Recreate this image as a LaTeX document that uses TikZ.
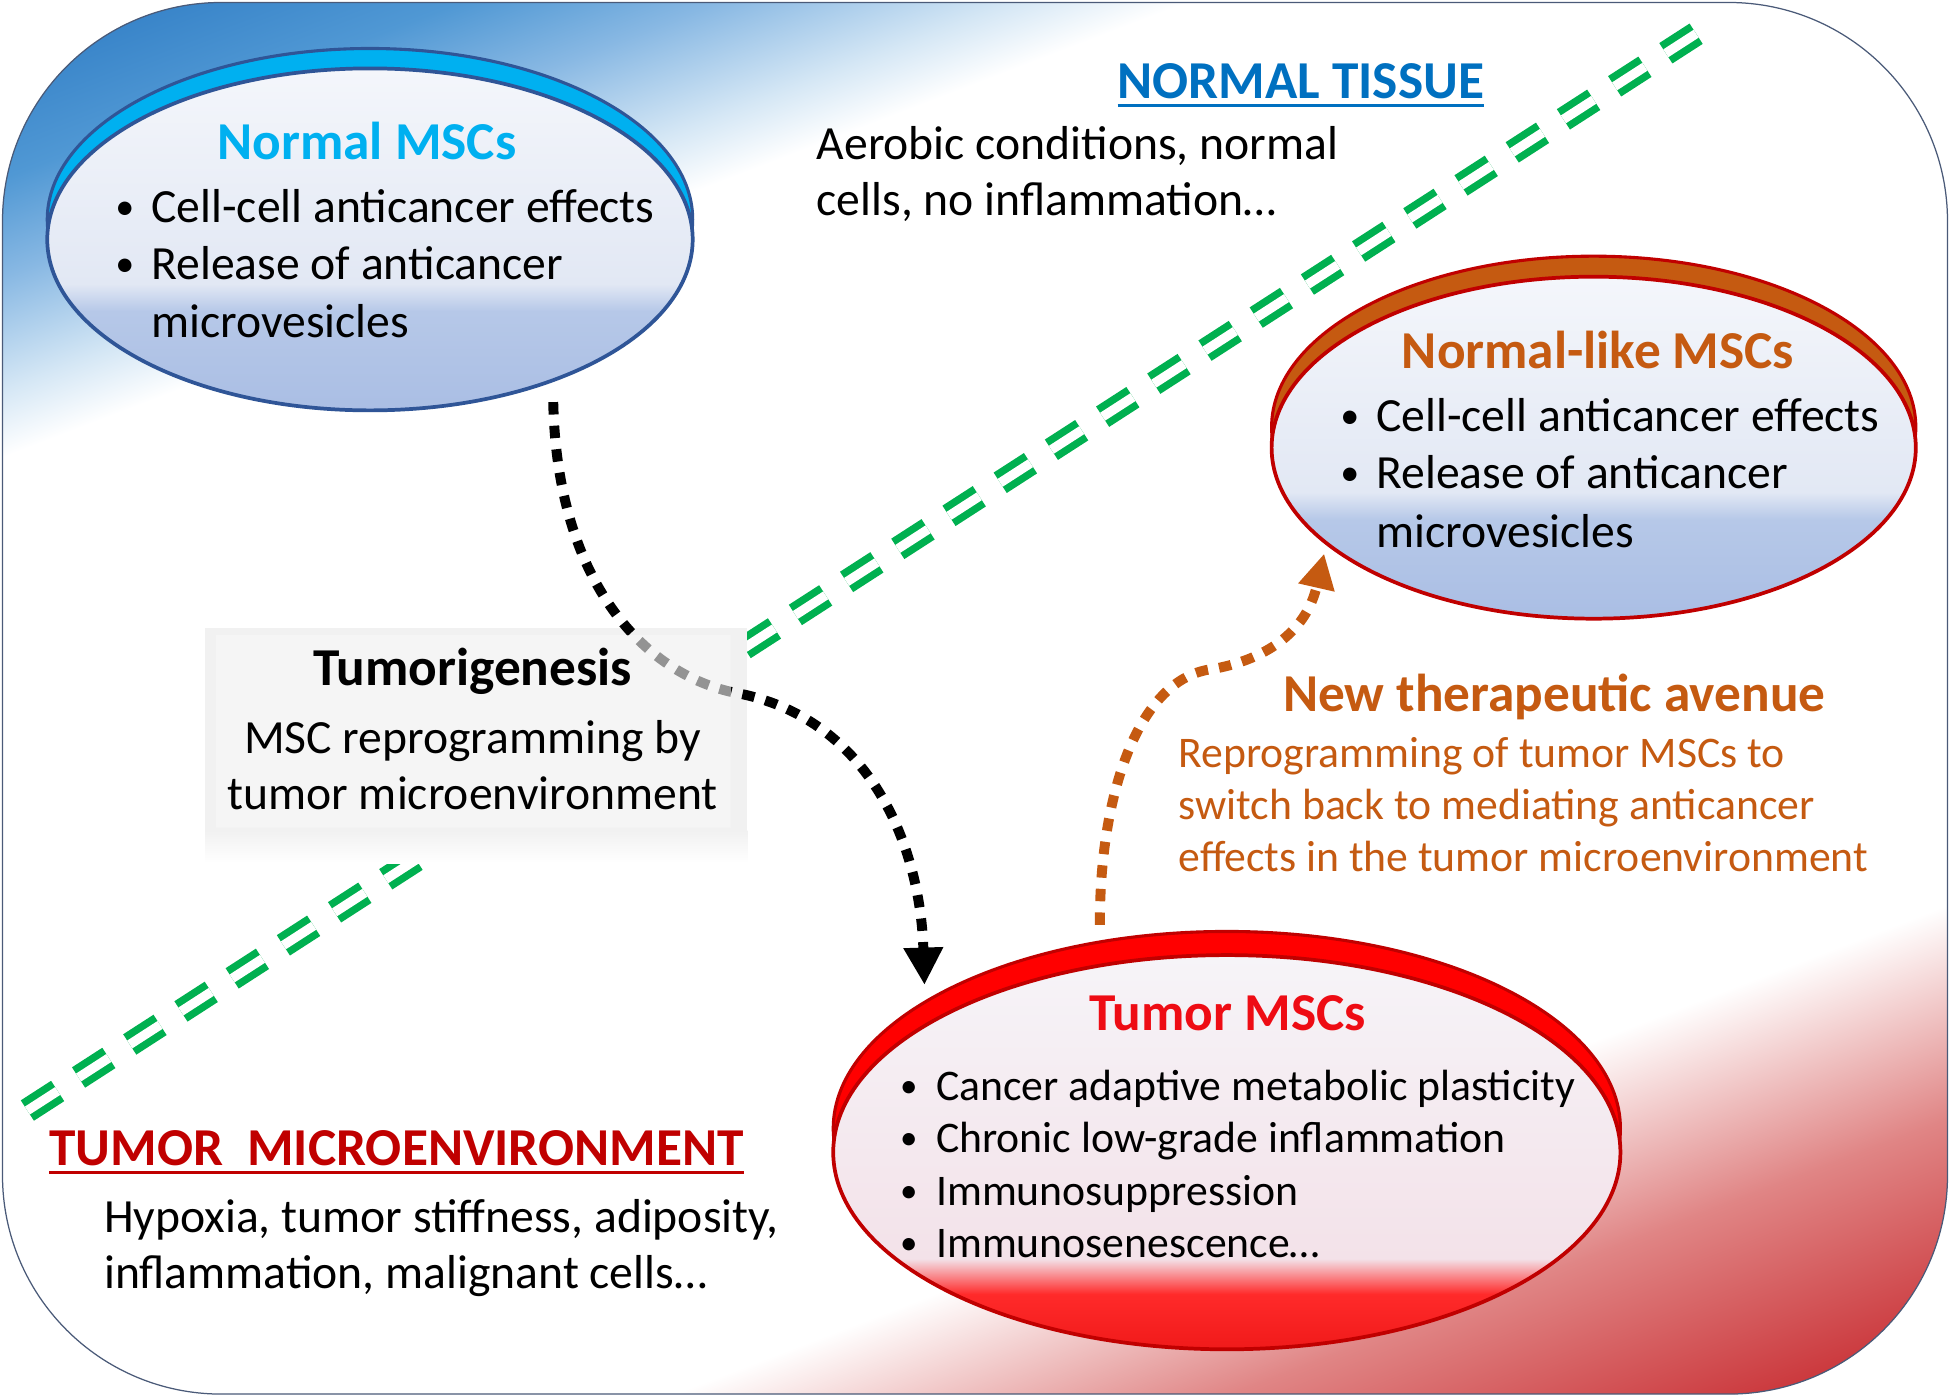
\documentclass[tikz,border=0pt]{standalone}
\usepackage{fontspec}
\setmainfont{Carlito}
\usetikzlibrary{shapes.geometric,arrows.meta}

\definecolor{ntblue}{HTML}{2A78C2}
\definecolor{ntblueb}{HTML}{5098D4}
\definecolor{ntbluec}{HTML}{88B8E3}
\definecolor{ntblued}{HTML}{D5E7F5}
\definecolor{tmred}{HTML}{C41E24}
\definecolor{tmpink}{HTML}{E08585}
\definecolor{divgreen}{HTML}{00B050}
\definecolor{nmsccyan}{HTML}{00B0F0}
\definecolor{nmscline}{HTML}{2F5597}
\definecolor{nlorange}{HTML}{C55A11}
\definecolor{nlline}{HTML}{C00000}
\definecolor{tmscred}{HTML}{FF0000}
\definecolor{tmtitle}{HTML}{EE0C14}
\definecolor{tissueblue}{HTML}{0070C0}
\definecolor{bftop}{HTML}{F4F6FB}
\definecolor{bfmid}{HTML}{E2E8F4}
\definecolor{bflow}{HTML}{B6C8E8}
\definecolor{bfbot}{HTML}{AABEE4}
\definecolor{rftop}{HTML}{F6F4F8}
\definecolor{rfmid}{HTML}{F3E2E9}
\definecolor{rflow}{HTML}{FF2A2A}
\definecolor{rfbot}{HTML}{F01A1A}
\definecolor{framegray}{HTML}{4A5A78}

\pgfdeclareverticalshading{bgwash}{100bp}{color(0bp)=(tmred); color(25bp)=(tmred); color(31.5bp)=(tmpink); color(36.5bp)=(white); color(64.3bp)=(white); color(65.85bp)=(ntblued); color(68.5bp)=(ntbluec); color(70.8bp)=(ntblueb); color(75bp)=(ntblue); color(100bp)=(ntblue)}
\pgfdeclareverticalshading{blueface}{100bp}{color(0bp)=(bfbot); color(25bp)=(bfbot); color(39.5bp)=(bflow); color(43.5bp)=(bfmid); color(75bp)=(bftop); color(100bp)=(bftop)}
\pgfdeclareverticalshading{redface}{100bp}{color(0bp)=(rfbot); color(25bp)=(rfbot); color(32bp)=(rflow); color(36.5bp)=(rfmid); color(75bp)=(rftop); color(100bp)=(rftop)}

\tikzstyle{mscrim}=[ellipse,inner sep=0pt,line width=0.25mm]
\tikzstyle{mscface}=[ellipse,inner sep=0pt,line width=0.3mm,shade]
\tikzstyle{bodytext}=[inner sep=0pt,font=\fontsize{10.9}{13}\selectfont]
\tikzstyle{smalltext}=[inner sep=0pt,font=\fontsize{10}{12}\selectfont]
\tikzstyle{titletext}=[inner sep=0pt,font=\fontsize{12.2}{14}\selectfont\bfseries]
\tikzstyle{divider}=[draw=divgreen,line width=0.6mm,double=white,double distance=0.75mm,dash pattern=on 2.9mm off 2mm]
\tikzstyle{reprog}=[draw=black,line width=0.8mm,dash pattern=on 1mm off 0.9mm,-{Triangle[width=3mm,length=3mm]}]
\tikzstyle{therapy}=[draw=nlorange,line width=0.8mm,dash pattern=on 1mm off 0.9mm,-{Triangle[width=2.8mm,length=2.8mm]}]
\tikzstyle{tumbox}=[rectangle,inner sep=0pt,fill=gray!8,minimum width=41.3mm,minimum height=15.4mm]
\newcommand{\mscbul}{\makebox[2.9mm][l]{\raisebox{0.07em}{\scalebox{0.8}{\textbullet}}}}
\newcommand{\mscind}{\hspace*{2.9mm}}
\newcommand{\heading}[1]{\setbox0\hbox{#1}\rlap{\rule[-1.9pt]{\wd0}{0.65pt}}\box0}

\begin{document}
\begin{tikzpicture}[x=0.1mm,y=-0.1mm]
    \useasboundingbox (0,0) rectangle (1568,1123);
    % First the blue and red wash inside the rounded frame
    \begin{scope}
        \clip[rounded corners=17.6mm] (2,2) rectangle (1566,1121);
        \begin{scope}[transform canvas={rotate around={21:(784,561.5)}}]
            \shade[shading=bgwash] (-216,-244.5) rectangle (1784,1367.5);
        \end{scope}
    \end{scope}
    \draw[framegray,line width=0.1mm,rounded corners=17.6mm] (2,2) rectangle (1566,1121);

    % Border between normal tissue and tumor microenvironment
    \draw[divider] (22,893) -- (1378,18);

    % The three MSC ellipses: rim first, face on top
    \node[mscrim,fill=nmsccyan,draw=nmscline,minimum width=51.9mm,minimum height=27.5mm] (nmsc) at (297.5,176.5) {};
    \node[mscface,shading=blueface,draw=nmscline,minimum width=51.9mm,minimum height=27.5mm] (nmscface) at (297.5,192.5) {};
    \node[mscrim,fill=nlorange,draw=nlline,minimum width=51.8mm,minimum height=27.5mm] (nlmsc) at (1281.5,343.5) {};
    \node[mscface,shading=blueface,draw=nlline,minimum width=51.8mm,minimum height=27.5mm] (nlmscface) at (1281.5,360) {};
    \node[mscrim,fill=tmscred,draw=nlline,minimum width=63.3mm,minimum height=31.7mm] (tmsc) at (986.5,907.5) {};
    \node[mscface,shading=redface,draw=nlline,minimum width=63.3mm,minimum height=31.7mm] (tmscface) at (986.5,926.5) {};

    % Tumorigenesis box with its soft shadow
    \fill[gray!11] (165,505) rectangle (601,668);
    \shade[top color=gray!11,bottom color=white] (165,668) rectangle (601,694);
    \node[tumbox] (tbox) at (380.5,588) {};

    % Reprogramming by the tumor, passing under the box
    \draw[reprog,shorten <=1.6mm,shorten >=1.25mm] (nmscface.-38) .. controls (448,470) and (520,545) .. (596,558)
        .. controls (700,580) and (740,680) .. (tmsc.157.8);
    \fill[gray!8,opacity=0.6] (tbox.south west) rectangle (tbox.north east);

    % New therapeutic avenue
    \draw[therapy,shorten <=1.25mm,shorten >=0.7mm] (tmsc.124.3) .. controls (884,640) and (915,545) .. (975,538)
        .. controls (1015,531) and (1050,510) .. (nlmscface.200.9);

    % Titles
    \node[titletext,text=nmsccyan,anchor=base] (nmsctitle) at (295,128) {Normal MSCs};
    \node[titletext,text=nlorange,anchor=base] (nlmsctitle) at (1285,296) {Normal-like MSCs};
    \node[titletext,text=tmtitle,anchor=base] (tmsctitle) at (987,829) {Tumor MSCs};
    \node[titletext,text=tissueblue,anchor=base] (ntissue) at (1046,79) {\heading{NORMAL TISSUE}};
    \node[titletext,text=nlline,anchor=base west] (tmenv) at (39,937) {\heading{TUMOR\ \ MICROENVIRONMENT}};
    \node[titletext,anchor=base] (tgen) at (380,551) {Tumorigenesis};
    \node[titletext,text=nlorange,anchor=base west] (newav) at (1031,572) {New therapeutic avenue};

    % Bullet lists and the other lines of text
    \foreach \y/\txt [count=\i] in {179/{\mscbul Cell-cell anticancer effects}, 225/{\mscbul Release of anticancer}, 271/{\mscind microvesicles}}
        \node[bodytext,anchor=base west] (nmscl\i) at (92,\y) {\txt};
    \foreach \y/\txt [count=\i] in {347/{\mscbul Cell-cell anticancer effects}, 393/{\mscbul Release of anticancer}, 440/{\mscind microvesicles}}
        \node[bodytext,anchor=base west] (nlmscl\i) at (1077,\y) {\txt};
    \foreach \y/\txt [count=\i] in {885/{\mscbul Cancer adaptive metabolic plasticity}, 927/{\mscbul Chronic low-grade inflammation}, 969/{\mscbul Immunosuppression}, 1011/{\mscbul Immunosenescence…}}
        \node[smalltext,anchor=base west] (tmscl\i) at (723,\y) {\txt};
    \foreach \y/\txt [count=\i] in {128/{Aerobic conditions, normal}, 173/{cells, no inflammation…}}
        \node[bodytext,anchor=base west] (ntissuel\i) at (656,\y) {\txt};
    \foreach \y/\txt [count=\i] in {991/{Hypoxia, tumor stiffness, adiposity,}, 1036/{inflammation, malignant cells…}}
        \node[bodytext,anchor=base west] (tmenvl\i) at (83,\y) {\txt};
    \foreach \y/\txt [count=\i] in {606/{MSC reprogramming by}, 651/{tumor microenvironment}}
        \node[bodytext,anchor=base] (tgenl\i) at (380,\y) {\txt};
    \foreach \y/\txt [count=\i] in {617/{Reprogramming of tumor MSCs to}, 659/{switch back to mediating anticancer}, 701/{effects in the tumor microenvironment}}
        \node[smalltext,text=nlorange,anchor=base west] (newavl\i) at (947,\y) {\txt};
\end{tikzpicture}
\end{document}
